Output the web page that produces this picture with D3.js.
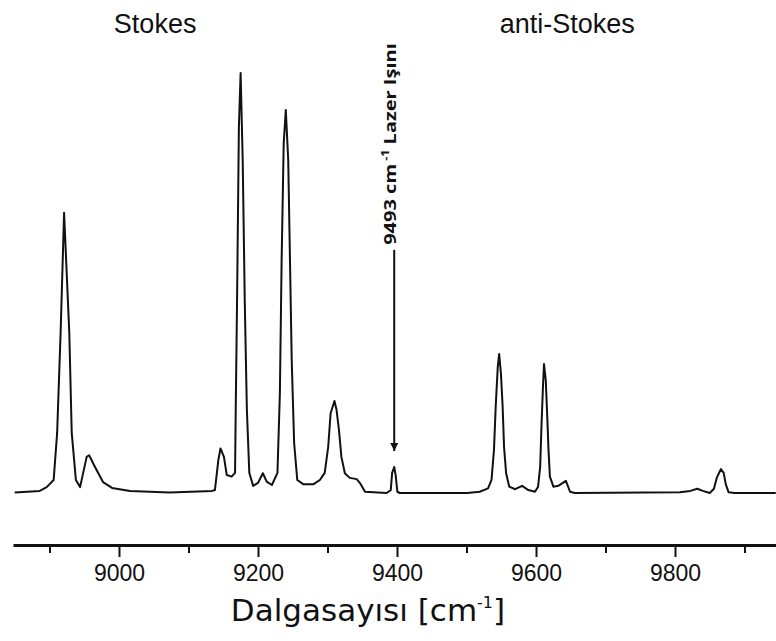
<!DOCTYPE html>
<head>
    <meta charset="utf-8">
    <script src="https://d3js.org/d3.v7.min.js"></script>
    <style>
        body { margin: 0; background: #fff; }
    </style>
</head>
<body>
    <svg class="chart" width="776" height="641"></svg>
    <script>

        // spectrum: wavenumber (cm-1) and relative intensity
        var wavenumber = [
            8850, 8886, 8896, 8906, 8911, 8916, 8921, 8928.5, 8932, 8938,
            8944, 8953.5, 8957, 8965.5, 8977, 8990, 9016, 9073, 9134, 9138,
            9143, 9146, 9151, 9155, 9162, 9167, 9168, 9170, 9172.5, 9175,
            9178, 9181, 9184, 9187.5, 9193, 9200, 9207, 9212.5, 9220, 9228,
            9231.5, 9234, 9237, 9240, 9243.5, 9246, 9248.5, 9252, 9256.5, 9265,
            9280, 9289, 9296, 9301, 9304.5, 9310, 9313, 9316.5, 9320, 9325,
            9332, 9342, 9347, 9354, 9385, 9391, 9393, 9396, 9398, 9400.5,
            9404, 9501, 9519, 9531, 9536, 9539.5, 9542, 9545, 9547, 9549.5,
            9552, 9554, 9557, 9561.5, 9570, 9580, 9589, 9598.5, 9603, 9606,
            9608, 9610, 9611.5, 9614, 9616, 9618, 9620, 9625, 9632, 9643,
            9649, 9656, 9807, 9822, 9832, 9840, 9850, 9856, 9860, 9866,
            9870, 9873, 9877, 9886, 9945
        ]
        var intensity = [
            0.1, 0.5, 1.4, 3.1, 14.3, 38.1, 66.7, 38.1, 14.3, 3.1,
            1.4, 8.6, 9.0, 6.2, 2.6, 1.2, 0.5, 0.1, 0.5, 0.7,
            7.9, 10.6, 8.6, 4.3, 3.9, 4.8, 20.5, 47.6, 87.1, 100,
            79.3, 45.2, 19.8, 4.8, 1.7, 2.4, 4.7, 2.7, 1.9, 4.8,
            23.8, 55.5, 83.3, 91.2, 79.3, 55.5, 31.7, 11.9, 3.1, 2.1,
            2.1, 3.1, 4.8, 11.0, 19.0, 21.9, 19.8, 15.0, 8.6, 4.7,
            3.6, 3.3, 2.3, 0.3, 0, 0.7, 4.8, 6.2, 4.3, 0.3,
            0, 0, 0.3, 1.1, 3.1, 10.2, 20.5, 30.1, 33.1, 28.5,
            20.5, 11.0, 4.7, 1.5, 0.9, 1.7, 0.7, 0.3, 1.5, 6.3,
            16.6, 25.3, 30.7, 26.9, 19.0, 10.2, 3.9, 1.5, 1.7, 2.9,
            0.3, 0, 0.2, 0.5, 1.0, 0.5, 0, 1.0, 3.6, 5.7,
            4.8, 2.1, 0.2, 0, 0
        ]

        var majorTicks = [9000, 9200, 9400, 9600, 9800]
        var minorTicks = [8900, 9100, 9300, 9500, 9700, 9900]

        // laser line annotation
        var laserPos = 9396
        var arrowTop = 57.9
        var arrowTip = 10.0
        var laserValue = "9493 cm"
        var laserName = "Lazer Işını"

        var regionLabels = [
            {text: "Stokes", at: 9052},
            {text: "anti-Stokes", at: 9645}
        ]

        var svg = d3.select("svg")

        var xScale = d3.scaleLinear()
        .domain([8847.5, 9945.3])
        .range([13, 776])

        var yScale = d3.scaleLinear()
        .domain([0, 100])
        .range([493, 73])

        var points = wavenumber.map((w, i) => [w, intensity[i]])

        var line = d3.line()
        .x(d => xScale(d[0]))
        .y(d => yScale(d[1]))

        svg.append("path")
        .datum(points)
        .attr("d", line)
        .attr("fill", "none")
        .attr("stroke", "#111")
        .attr("stroke-width", 2)
        .attr("stroke-linejoin", "round")

        // x axis, major ticks with labels
        var axisY = 545
        var xAxis = d3.axisBottom(xScale)
        .tickValues(majorTicks)
        .tickFormat(d3.format("d"))
        .tickSize(12)
        .tickSizeOuter(0)
        .tickPadding(8)

        var gx = svg.append("g")
        .attr("transform", `translate(0, ${axisY})`)
        .call(xAxis)
        gx.select(".domain").attr("stroke", "#111").attr("stroke-width", 3)
        gx.selectAll(".tick line").attr("stroke", "#111").attr("stroke-width", 2)
        gx.selectAll(".tick text")
        .attr("fill", "#111")
        .style("font-family", "Liberation Sans, Arial, sans-serif")
        .style("font-size", "23px")

        var xMinor = d3.axisBottom(xScale)
        .tickValues(minorTicks)
        .tickFormat("")
        .tickSize(8)
        .tickSizeOuter(0)

        var gm = svg.append("g")
        .attr("transform", `translate(0, ${axisY})`)
        .call(xMinor)
        gm.select(".domain").remove()
        gm.selectAll(".tick line").attr("stroke", "#111").attr("stroke-width", 2)

        // axis title
        var title = svg.append("text")
        .attr("x", 368)
        .attr("y", 621)
        .attr("text-anchor", "middle")
        .style("font-family", "DejaVu Sans, sans-serif")
        .style("font-size", "31px")
        .attr("fill", "#111")
        title.append("tspan").text("Dalgasayısı [cm")
        title.append("tspan").text("-1").attr("dy", -13).style("font-size", "16px")
        title.append("tspan").text("]").attr("dy", 13)

        // region labels
        svg.selectAll(".region")
        .data(regionLabels)
        .enter()
        .append("text")
        .attr("class", "region")
        .attr("x", d => xScale(d.at))
        .attr("y", 33)
        .attr("text-anchor", "middle")
        .style("font-family", "Liberation Sans, Arial, sans-serif")
        .style("font-size", "27px")
        .attr("fill", "#111")
        .text(d => d.text)

        // laser arrow
        svg.append("defs").append("marker")
        .attr("id", "head")
        .attr("viewBox", "0 0 10 10")
        .attr("refX", 10).attr("refY", 5)
        .attr("markerWidth", 4).attr("markerHeight", 4)
        .attr("orient", "auto")
        .append("path").attr("d", "M0,0L10,5L0,10z").attr("fill", "#111")

        svg.append("line")
        .attr("x1", xScale(laserPos)).attr("x2", xScale(laserPos))
        .attr("y1", yScale(arrowTop)).attr("y2", yScale(arrowTip))
        .attr("stroke", "#111")
        .attr("stroke-width", 2)
        .attr("marker-end", "url(#head)")

        var lx = xScale(laserPos) + 2
        var lab = svg.append("text")
        .attr("transform", `translate(${lx}, ${yScale(arrowTop) - 5}) rotate(-90) scale(1.25, 1)`)
        .style("font-family", "Open Sans, sans-serif")
        .style("font-weight", "700")
        .style("font-size", "16px")
        .attr("fill", "#111")
        lab.append("tspan").text(laserValue)
        lab.append("tspan").text(" -1").attr("dy", -7).style("font-size", "10px")
        lab.append("tspan").text("   " + laserName).attr("dy", 7)

    </script>
</body>
